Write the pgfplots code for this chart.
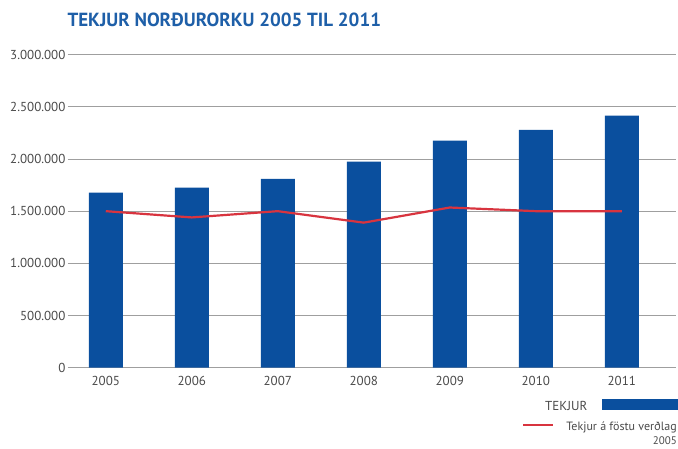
\documentclass[border=0pt]{standalone}
\usepackage{pgfplots}
\pgfplotsset{compat=1.18}
\usepackage{fontspec}
\setmainfont{PT Sans}
\definecolor{barblue}{HTML}{0A4F9E}
\definecolor{linered}{HTML}{D8343F}
\definecolor{titleblue}{HTML}{1E5FA8}
\definecolor{txtgray}{HTML}{4A4A4A}
\begin{document}
\begin{tikzpicture}[x=1pt,y=1pt]
\begin{axis}[
  at={(79,77)}, anchor=south west,
  scale only axis, width=608pt, height=313pt,
  xmin=-0.44, xmax=6.63, ymin=0, ymax=3000000,
  axis line style={draw=none}, tick style={draw=none},
  ymajorgrids, grid style={gray!75, line width=0.8pt},
  xtick={0,1,2,3,4,5,6}, xticklabels={2005,2006,2007,2008,2009,2010,2011},
  ytick={0,500000,1000000,1500000,2000000,2500000,3000000},
  yticklabels={0,500.000,1.000.000,1.500.000,2.000.000,2.500.000,3.000.000},
  scaled y ticks=false,
  yticklabel style={font=\fontsize{13}{13}\selectfont, text=txtgray, xshift=1pt},
  xticklabel style={font=\fontsize{13}{13}\selectfont, text=txtgray, yshift=-5pt},
  clip=false,
]
\addplot[ybar, bar width=34pt, fill=barblue, draw=none] coordinates {
  (0,1677000) (1,1725000) (2,1810000) (3,1975000) (4,2176000) (5,2280000) (6,2415000)};
\addplot[sharp plot, linered, line width=2.2pt] coordinates {
  (0,1500000) (1,1440000) (2,1500000) (3,1390000) (4,1535000) (5,1500000) (6,1500000)};
\end{axis}
\node[anchor=west, font=\bfseries\fontsize{19}{19}\selectfont, text=titleblue] at (64,428) {TEKJUR NORÐURORKU 2005 TIL 2011};
\node[anchor=base west, font=\fontsize{13}{13}\selectfont, text=txtgray, inner sep=0pt] at (545,38) {TEKJUR};
\fill[barblue] (602,38) rectangle (700,49);
\draw[linered, line width=2.5pt] (523,23) -- (553,23);
\node[anchor=base east, font=\fontsize{12}{12}\selectfont, text=txtgray, inner sep=0pt] at (677,18) {Tekjur á föstu verðlag};
\node[anchor=base east, font=\fontsize{11}{11}\selectfont, text=txtgray, inner sep=0pt] at (677,4) {2005};
\pgfresetboundingbox
\path[use as bounding box] (0,0) rectangle (678,448);
\end{tikzpicture}
\end{document}
